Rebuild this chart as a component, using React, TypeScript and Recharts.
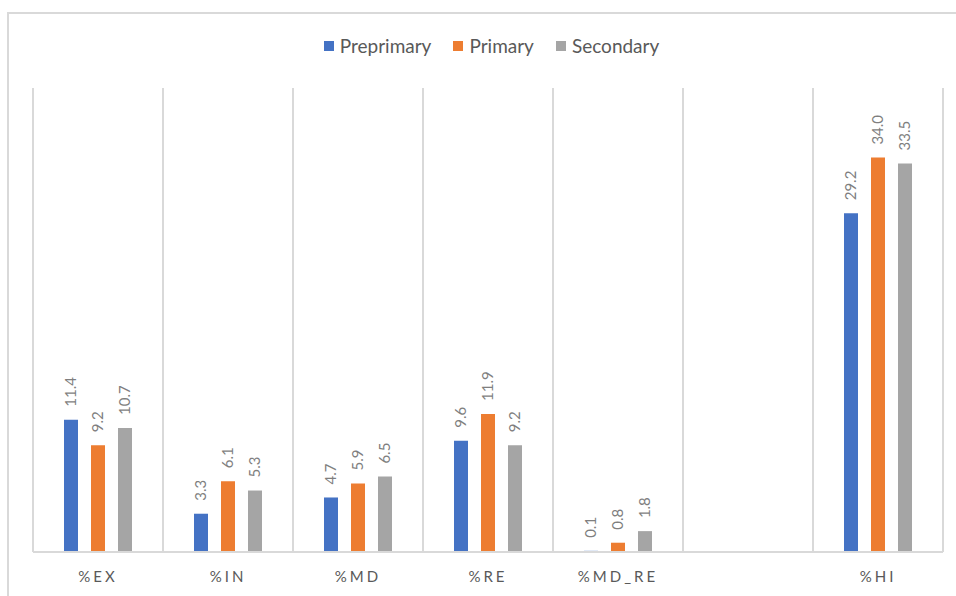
import { BarChart, Bar, XAxis, YAxis, CartesianGrid, LabelList } from 'recharts'

const categories = ['%EX', '%IN', '%MD', '%RE', '%MD_RE', '', '%HI']
const preprimary = [11.4, 3.3, 4.7, 9.6, 0.1, null, 29.2]
const primary = [9.2, 6.1, 5.9, 11.9, 0.8, null, 34.0]
const secondary = [10.7, 5.3, 6.5, 9.2, 1.8, null, 33.5]

const SERIES = [
  { key: 'preprimary', name: 'Preprimary', color: '#4472C4' },
  { key: 'primary', name: 'Primary', color: '#ED7D31' },
  { key: 'secondary', name: 'Secondary', color: '#A5A5A5' },
]

const FONT = 'Lato, "Liberation Sans", sans-serif'
const LINE = '#d9d9d9'

const data = categories.map((name, i) => ({
  name,
  preprimary: preprimary[i],
  primary: primary[i],
  secondary: secondary[i],
}))

// vertical separators sit on the category band edges, not on the ticks
function bandEdges({ offset }: any) {
  const step = offset.width / categories.length
  const xs: number[] = []
  for (let i = 0; i <= categories.length; i++) xs.push(offset.left + i * step)
  return xs
}

function RotatedLabel(props: any) {
  const { x, y, width, value } = props
  if (value === null || value === undefined) return null
  const cx = x + width / 2
  const cy = y - 13
  return (
    <text
      x={cx}
      y={cy}
      transform={`rotate(-90 ${cx} ${cy})`}
      textAnchor="start"
      dy="0.35em"
      fill="#7f7f7f"
      fontSize={15}
      fontFamily={FONT}
    >
      {Number(value).toFixed(1)}
    </text>
  )
}

function ChartLegend() {
  return (
    <div
      style={{
        position: 'absolute',
        top: 36,
        left: 0,
        width: 983,
        display: 'flex',
        justifyContent: 'center',
        gap: 22,
        fontFamily: FONT,
        fontSize: 19,
        color: '#595959',
        lineHeight: '20px',
      }}
    >
      {SERIES.map((s) => (
        <div key={s.key} style={{ display: 'flex', alignItems: 'center', gap: 6 }}>
          <span style={{ width: 10, height: 10, background: s.color, display: 'inline-block' }} />
          <span>{s.name}</span>
        </div>
      ))}
    </div>
  )
}

export default function App() {
  return (
    <div
      style={{
        position: 'fixed',
        top: 0,
        left: 0,
        width: 956,
        height: 596,
        overflow: 'hidden',
        background: '#fff',
      }}
    >
      <div
        style={{
          position: 'absolute',
          left: 7,
          top: 12,
          width: 1000,
          height: 700,
          borderLeft: `2px solid ${LINE}`,
          borderTop: `2px solid ${LINE}`,
        }}
      />
      <ChartLegend />
      <div style={{ position: 'absolute', top: 0, left: 0 }}>
        <BarChart
          width={956}
          height={596}
          data={data}
          margin={{ top: 88, right: 13, bottom: 0, left: 33 }}
          barSize={14}
          barGap={13}
        >
          <CartesianGrid
            horizontal={false}
            vertical
            stroke={LINE}
            strokeWidth={2}
            verticalCoordinatesGenerator={bandEdges}
          />
          <XAxis
            dataKey="name"
            height={44}
            axisLine={{ stroke: LINE, strokeWidth: 2 }}
            tickLine={false}
            tickSize={0}
            tickMargin={19}
            interval={0}
            tick={{ fill: '#595959', fontSize: 15, fontFamily: FONT, letterSpacing: 3 }}
          />
          <YAxis domain={[0, 40]} hide />
          {SERIES.map((s) => (
            <Bar
              key={s.key}
              dataKey={s.key}
              name={s.name}
              fill={s.color}
              isAnimationActive={false}
            >
              <LabelList dataKey={s.key} content={<RotatedLabel />} />
            </Bar>
          ))}
        </BarChart>
      </div>
    </div>
  )
}
